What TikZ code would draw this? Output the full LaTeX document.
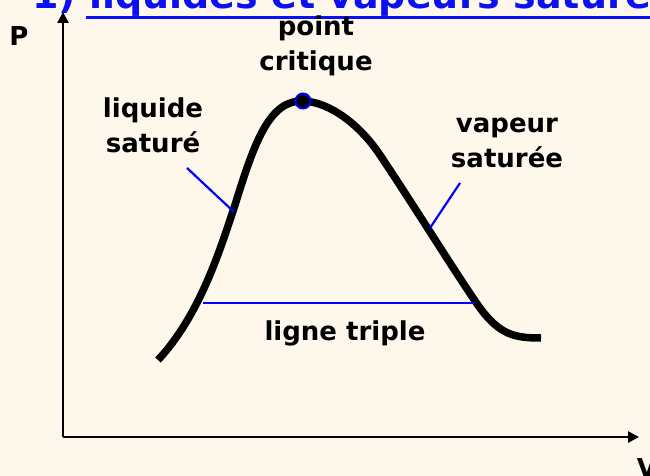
\documentclass[tikz,border=0pt]{standalone}
\usepackage{fontspec}
\setmainfont{DejaVu Sans}
\usetikzlibrary{arrows.meta}
\definecolor{bg}{HTML}{FDF7EC}
\definecolor{ttl}{HTML}{0A10F0}
\tikzset{
  lbl/.style={font=\fontsize{26}{35}\selectfont\bfseries, align=center, inner sep=0pt},
  axis/.style={line width=2.6pt, -{Triangle[length=11pt,width=11pt]}},
  bluel/.style={draw=blue, line width=2.2pt},
}
\begin{document}
\begin{tikzpicture}[x=1pt,y=-1pt]
\fill[bg] (0,0) rectangle (650,476);
\useasboundingbox (0,0) rectangle (650,476);
% title (cut at top)
\node[anchor=base west, inner sep=0pt, text=ttl, font=\fontsize{38}{40}\selectfont\bfseries] (title) at (32,9) {1) liquides et vapeurs saturés};
\coordinate (u1) at (86,18); \coordinate (u2) at (650,18);
\draw[ttl, line width=3pt] (u1) -- (u2);
% axes
\coordinate (O) at (63,437);
\coordinate (Ptop) at (63,12);
\coordinate (Vend) at (639,437);
\draw[axis] (O) -- (Ptop);
\draw[axis] (O) -- (Vend);
\node[lbl] (P) at (19,36) {P};
\node[lbl] (V) at (647,468) {V};
% curve
\coordinate (c0) at (158,360);
\coordinate (c1) at (235,205);
\coordinate (c2) at (303,101);
\coordinate (c3) at (380,155);
\coordinate (c4) at (480,308);
\coordinate (c5) at (541,338);
\draw[line width=7.5pt, line join=round]
  (c0) .. controls (200,315) and (220,250) .. (c1)
       .. controls (255,140) and (270,100) .. (c2)
       .. controls (330,102) and (360,125) .. (c3)
       .. controls (420,215) and (460,280) .. (c4)
       .. controls (500,335) and (515,338) .. (c5);
% critical point
\node[circle, fill=black, draw=blue, line width=2pt, minimum size=15pt, inner sep=0pt] (crit) at (c2) {};
% labels
\node[lbl] (pc) at (316,46) {point\\critique};
\node[lbl] (ls) at (153,125) {liquide\\saturé};
\node[lbl] (vs) at (507,143) {vapeur\\saturée};
\node[lbl] (lt) at (345,333) {ligne triple};
% leader lines
\coordinate (l1) at (187,168); \coordinate (l2) at (234,212);
\coordinate (v1) at (460,183); \coordinate (v2) at (430,228);
\coordinate (t1) at (203,303); \coordinate (t2) at (475,303);
\draw[bluel] (l1) -- (l2);
\draw[bluel] (v1) -- (v2);
\draw[bluel] (t1) -- (t2);
\end{tikzpicture}
\end{document}
